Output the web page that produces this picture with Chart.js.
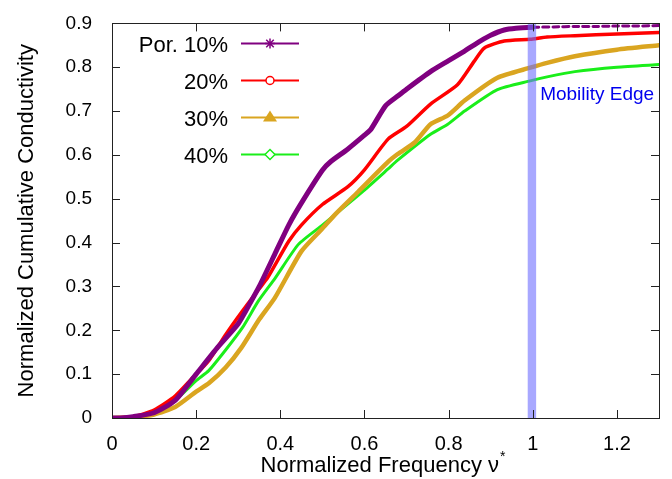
<!DOCTYPE html>
<html>
<head>
<meta charset="utf-8">
<script src="https://cdn.jsdelivr.net/npm/chart.js@4/dist/chart.umd.min.js"></script>
<style>
html,body{margin:0;padding:0;background:#fff;}
#wrap{width:672px;height:479px;}
</style>
</head>
<body>
<div id="wrap"><canvas id="c" width="672" height="479"></canvas></div>
<script>
// ---- data ----
const x10 = [0,0.02,0.05,0.1,0.15,0.2,0.25,0.3,0.33,0.35,0.39,0.42,0.45,0.5,0.52,0.56,0.6,0.615,0.65,0.68,0.7,0.757,0.8,0.838,0.876,0.9,0.932,0.96,1.0,1.05,1.1,1.15,1.2,1.25,1.3];
const y10 = [0,0,0.003,0.012,0.04,0.10,0.16,0.215,0.265,0.30,0.38,0.44,0.49,0.565,0.585,0.613,0.645,0.658,0.712,0.735,0.75,0.79,0.815,0.837,0.86,0.873,0.885,0.889,0.891,0.892,0.893,0.893,0.894,0.894,0.895];

const x20 = [0,0.05,0.1,0.15,0.19,0.23,0.27,0.31,0.35,0.37,0.42,0.45,0.5,0.56,0.6,0.656,0.7,0.757,0.821,0.861,0.885,0.932,0.994,1.034,1.1,1.2,1.3];
const y20 = [0,0.003,0.018,0.05,0.09,0.131,0.19,0.244,0.295,0.32,0.403,0.44,0.487,0.527,0.566,0.636,0.665,0.716,0.76,0.814,0.844,0.86,0.864,0.869,0.872,0.876,0.879];

const x30 = [0,0.05,0.1,0.15,0.2,0.23,0.27,0.308,0.35,0.387,0.45,0.5,0.53,0.585,0.656,0.679,0.72,0.757,0.798,0.838,0.916,0.994,1.034,1.1,1.2,1.3];
const y30 = [0,0.002,0.008,0.025,0.06,0.079,0.115,0.161,0.225,0.274,0.38,0.432,0.464,0.516,0.584,0.602,0.629,0.67,0.69,0.724,0.776,0.799,0.81,0.825,0.84,0.85];

const x40 = [0,0.05,0.1,0.15,0.2,0.23,0.27,0.31,0.348,0.387,0.443,0.5,0.53,0.6,0.656,0.679,0.757,0.798,0.838,0.916,0.994,1.034,1.1,1.2,1.3];
const y40 = [0,0.003,0.012,0.04,0.085,0.108,0.155,0.206,0.267,0.318,0.396,0.44,0.464,0.52,0.568,0.588,0.647,0.67,0.70,0.749,0.769,0.778,0.79,0.80,0.806];

const seriesLabels = ["Por. 10%","20%","30%","40%"];
const xTicks = [0,0.2,0.4,0.6,0.8,1,1.2];
const yTicks = [0,0.1,0.2,0.3,0.4,0.5,0.6,0.7,0.8,0.9];
const mobilityEdge = [0.988, 1.008];
const mobilityLabel = "Mobility Edge";

// ---- styles ----
const colors = ["#800080","#ff0000","#daa520","#1aee1a"];
const widths = [5,3.5,4.5,3];
const markers = ["star","circle","triangle","rectRot"];
const FONT = "'Liberation Sans', Arial, sans-serif";

function pts(xs, ys){ return xs.map((x,i)=>({x:x,y:ys[i]})); }

const datasets = [
  {label:seriesLabels[0], data:pts(x10,y10), borderColor:colors[0], borderWidth:widths[0], pointRadius:0,
   segment:{borderDash: c => c.p0.parsed.x >= 1.0 ? [6,4] : undefined, borderWidth: c => c.p0.parsed.x >= 1.0 ? 3 : undefined}},
  {label:seriesLabels[1], data:pts(x20,y20), borderColor:colors[1], borderWidth:widths[1], pointRadius:0},
  {label:seriesLabels[2], data:pts(x30,y30), borderColor:colors[2], borderWidth:widths[2], pointRadius:0},
  {label:seriesLabels[3], data:pts(x40,y40), borderColor:colors[3], borderWidth:widths[3], pointRadius:0}
];

function drawMarker(ctx, type, x, y, color){
  ctx.save();
  ctx.strokeStyle = color; ctx.fillStyle = color; ctx.lineWidth = 1.5;
  ctx.beginPath();
  if(type==="star"){
    const r=5;
    ctx.moveTo(x-r,y); ctx.lineTo(x+r,y);
    ctx.moveTo(x,y-r); ctx.lineTo(x,y+r);
    ctx.moveTo(x-r*0.75,y-r*0.75); ctx.lineTo(x+r*0.75,y+r*0.75);
    ctx.moveTo(x-r*0.75,y+r*0.75); ctx.lineTo(x+r*0.75,y-r*0.75);
    ctx.stroke();
  } else if(type==="circle"){
    ctx.fillStyle="#fff";
    ctx.arc(x,y,4,0,Math.PI*2); ctx.fill(); ctx.stroke();
  } else if(type==="triangle"){
    ctx.moveTo(x-7,y+4); ctx.lineTo(x+7,y+4); ctx.lineTo(x,y-7); ctx.closePath(); ctx.fill();
  } else {
    ctx.fillStyle="#fff";
    ctx.moveTo(x,y-5); ctx.lineTo(x+5,y); ctx.lineTo(x,y+5); ctx.lineTo(x-5,y); ctx.closePath(); ctx.fill(); ctx.stroke();
  }
  ctx.restore();
}

const framePlugin = {
  id:'frame',
  afterDatasetsDraw(chart){
    const {ctx, chartArea:a, scales} = chart;
    const xs = scales.x, ys = scales.y;
    // mobility edge band
    ctx.save();
    ctx.fillStyle = "rgba(110,110,255,0.6)";
    const bx0 = xs.getPixelForValue(mobilityEdge[0]), bx1 = xs.getPixelForValue(mobilityEdge[1]);
    const by0 = ys.getPixelForValue(0.9), by1 = ys.getPixelForValue(0);
    ctx.fillRect(bx0, by0, bx1-bx0, by1-by0);
    ctx.fillStyle = "#0000ee";
    ctx.font = "19px " + FONT;
    ctx.textAlign = "left"; ctx.textBaseline = "alphabetic";
    ctx.fillText(mobilityLabel, bx1 + 4, ys.getPixelForValue(0.725));
    ctx.restore();

    // frame and inward ticks
    ctx.save();
    ctx.strokeStyle = "#222"; ctx.lineWidth = 1;
    ctx.strokeRect(Math.round(a.left)+0.5, Math.round(a.top)+0.5, Math.round(a.right-a.left), Math.round(a.bottom-a.top));
    ctx.beginPath();
    const tl = 8;
    xTicks.forEach(v=>{
      const px = Math.round(xs.getPixelForValue(v))+0.5;
      ctx.moveTo(px,a.bottom); ctx.lineTo(px,a.bottom-tl);
      ctx.moveTo(px,a.top); ctx.lineTo(px,a.top+tl);
    });
    yTicks.forEach(v=>{
      const py = Math.round(ys.getPixelForValue(v))+0.5;
      ctx.moveTo(a.left,py); ctx.lineTo(a.left+tl,py);
      ctx.moveTo(a.right,py); ctx.lineTo(a.right-tl,py);
    });
    ctx.stroke();
    ctx.restore();

    // axis titles
    ctx.save();
    ctx.fillStyle = "#000";
    ctx.font = "22px " + FONT;
    ctx.textBaseline = "alphabetic";
    const main = "Normalized Frequency \u03bd";
    const w = ctx.measureText(main).width;
    ctx.font = "14px " + FONT;
    const ws = ctx.measureText("*").width;
    const cx = (a.left + a.right)/2;
    const sx = cx - (w+ws)/2 - 3;
    ctx.font = "22px " + FONT;
    ctx.textAlign = "left";
    ctx.fillText(main, sx, 472);
    ctx.font = "14px " + FONT;
    ctx.fillText("*", sx + w + 1, 461);
    ctx.translate(33, (a.top + a.bottom)/2);
    ctx.rotate(-Math.PI/2);
    ctx.font = "22px " + FONT;
    ctx.textAlign = "center";
    ctx.fillText("Normalized Cumulative Conductivity", 0, 0);
    ctx.restore();

    // legend
    ctx.save();
    ctx.font = "22px " + FONT;
    ctx.textAlign = "right"; ctx.textBaseline = "alphabetic";
    const rows = [43.5, 80.5, 117.5, 154.5];
    seriesLabels.forEach((lab,i)=>{
      const ly = rows[i];
      ctx.fillStyle = "#000";
      ctx.fillText(lab, 228, ly + 8);
      ctx.strokeStyle = colors[i]; ctx.lineWidth = 2;
      ctx.beginPath(); ctx.moveTo(241, ly); ctx.lineTo(299, ly); ctx.stroke();
      drawMarker(ctx, markers[i], 270, ly, colors[i]);
    });
    ctx.restore();
  }
};

new Chart(document.getElementById('c'), {
  type:'line',
  data:{datasets:datasets},
  options:{
    responsive:false,
    animation:false,
    events:[],
    layout:{padding:{top:20,right:13,left:0,bottom:0}},
    plugins:{legend:{display:false}, tooltip:{enabled:false}},
    elements:{line:{tension:0.2, borderCapStyle:'round', borderJoinStyle:'round'}},
    scales:{
      x:{type:'linear', min:0, max:1.3,
         afterFit(s){ s.height = 61; },
         afterBuildTicks(s){ s.ticks = xTicks.map(v=>({value:v})); },
         ticks:{font:{size:20, family:FONT}, color:'#000', padding:6, maxRotation:0,
                callback:v=>String(+v.toFixed(1))},
         grid:{display:false}, border:{display:false}},
      y:{type:'linear', min:0, max:0.9,
         afterFit(s){ s.width = 112; },
         afterBuildTicks(s){ s.ticks = yTicks.map(v=>({value:v})); },
         ticks:{font:{size:19, family:FONT}, color:'#000', padding:12,
                callback:v=>String(+v.toFixed(1))},
         grid:{display:false}, border:{display:false}}
    }
  },
  plugins:[framePlugin]
});
</script>
</body>
</html>
